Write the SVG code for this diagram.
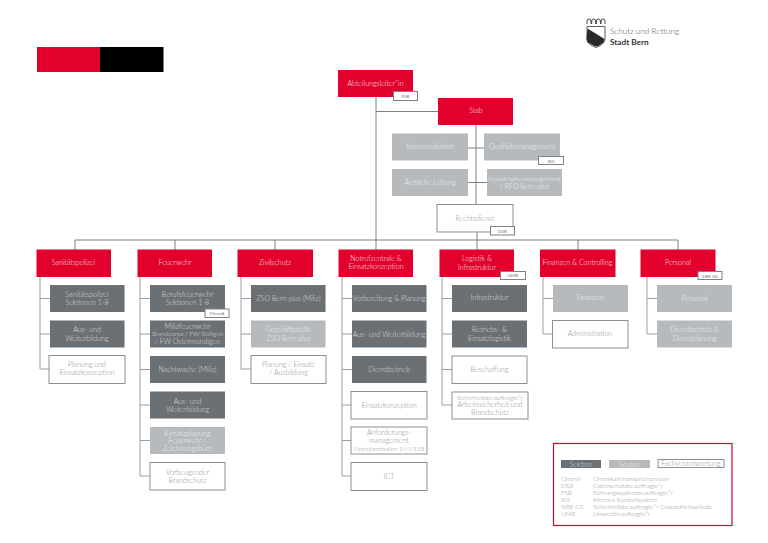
<svg xmlns="http://www.w3.org/2000/svg" width="768" height="543" viewBox="0 0 768 543">
<style>
text{font-family:"Lato","Roboto","Liberation Sans",sans-serif;font-weight:300;font-size:7.1px;text-anchor:middle}
.r{fill:#e2002d}.d{fill:#6b7075}.g{fill:#b6babd}
.w{fill:#fff;stroke:#8b9094;stroke-width:1}
.t{fill:#fff;stroke:#7d8286;stroke-width:1}
.tw{fill:#f6e3e6}.tg{fill:#f1f2f2}.td{fill:#dcdedf}.tb{fill:#8f9295}
.n{font-size:6.4px}
.tag{font-size:4.5px;fill:#777;font-weight:400}
.con{fill:none;stroke:#7d8286;stroke-width:1}
.con2{fill:none;stroke:#9a9ea2;stroke-width:1}
.lg{font-size:6.3px;text-anchor:start;fill:#8f9295}
</style>
<rect x="37" y="47" width="63" height="25" fill="#e2002d"/>
<rect x="100" y="47" width="63.500" height="25" fill="#000"/>
<g id="logo">
<path d="M587 24v-3a2 2 0 0 1 4 0v3M591.700 24v-3a2 2 0 0 1 4 0v3M596.400 24v-3a2 2 0 0 1 4 0v3M601 24v-3a2 2 0 0 1 4 0v3" stroke="#333" stroke-width="0.900" fill="none"/>
<path d="M587 26.500h18v12.500c0 4-4 6.500-9 8.500c-5-2-9-4.500-9-8.500z" fill="#fff" stroke="#333" stroke-width="0.800"/>
<path d="M587.500 28.500l17 10.500l-1 3.500l-5 3.500l-3 0.500l-8-4l-1-4z" fill="#2a2a2a"/>
<text x="610" y="33.500" style="font-size:8.200px;text-anchor:start;fill:#555">Schutz und Rettung</text>
<text x="610" y="44.500" style="font-size:8.200px;font-weight:700;text-anchor:start;fill:#333">Stadt Bern</text>
</g>
<g id="connectors">
<path class="con" d="M376 97V250M376 111.500H438M476 125V204M468 148H484M468 182.500H487M75 250V240H678V250M175 240V250M275 240V250M477 232V250M578 240V250"/>
<path class="con2" d="M40 277V369H50M40 298.500H50M40 334H50"/>
<path class="con2" d="M140 277V476H150M140 298.500H150M140 334H150M140 369.500H150M140 405H150M140 440.500H150"/>
<path class="con2" d="M241 277V369H251M241 298.500H251M241 334H251"/>
<path class="con2" d="M342 277V476H352M342 298.500H352M342 334H352M342 369.500H352M342 405H352M342 440.500H352"/>
<path class="con2" d="M442 277V405H452M442 298.500H452M442 334H452M442 369.500H452"/>
<path class="con2" d="M543 277V334H553M543 298.500H553"/>
<path class="con2" d="M647 277V334H657M647 298.500H657"/>
</g>
<g id="n-abt"><rect class="r" x="338" y="70" width="75" height="27"/><text class="tw" x="375.500" y="86">Abteilungsleiter*in</text></g>
<g id="t-fsb"><rect class="t" x="393.500" y="91.500" width="24" height="9"/><text class="tag" x="405.500" y="97.500">FSB</text></g>
<g id="n-stab"><rect class="r" x="438" y="98" width="75" height="27"/><text class="tw" x="476" y="112.500">Stab</text></g>
<g id="n-kom"><rect class="g" x="392" y="133.500" width="76" height="27"/><text class="tg" x="430" y="148.500">Kommunikation</text></g>
<g id="n-qual"><rect class="g" x="484" y="133.500" width="76" height="27"/><text class="tg" x="522" y="148.500">Qualitätsmanagement</text></g>
<g id="t-iks"><rect class="t" x="538.500" y="156.500" width="25" height="8"/><text class="tag" x="551" y="162.500">IKS</text></g>
<g id="n-arzt"><rect class="g" x="392" y="169" width="76" height="27"/><text class="tg" x="430" y="184.500">Ärztliche Leitung</text></g>
<g id="n-kat"><rect class="g" x="487" y="169" width="75" height="27"/><text class="tg n" x="524.500" y="180.500">Katastrophenmanagement</text><text class="tg" x="524.500" y="189">/ RFO Bern plus</text></g>
<g id="n-recht"><rect class="w" x="437" y="204.500" width="76" height="27.500"/><text class="tb" x="475" y="220.500">Rechtsdienst</text></g>
<g id="t-dsb"><rect class="t" x="490.500" y="226.500" width="24" height="8.500"/><text class="tag" x="502.500" y="232.500">DSB</text></g>

<g id="n-san"><rect class="r" x="36.500" y="249.500" width="74.500" height="27.500"/><text class="tw" x="73.500" y="264.500">Sanitätspolizei</text></g>
<g id="n-feu"><rect class="r" x="137.500" y="249.500" width="74.500" height="27.500"/><text class="tw" x="175" y="264.500">Feuerwehr</text></g>
<g id="n-ziv"><rect class="r" x="237.500" y="249.500" width="75.500" height="27.500"/><text class="tw" x="275" y="264.500">Zivilschutz</text></g>
<g id="n-not"><rect class="r" x="338.500" y="249.500" width="74.500" height="27.500"/><text class="tw" x="376" y="261">Notrufzentrale &amp;</text><text class="tw" x="376" y="269">Einsatzkonzeption</text></g>
<g id="n-log"><rect class="r" x="439.500" y="249.500" width="74.500" height="27.500"/><text class="tw" x="477" y="261">Logistik &amp;</text><text class="tw" x="477" y="269.500">Infrastruktur</text></g>
<g id="t-umb"><rect class="t" x="500.500" y="271.500" width="25" height="8"/><text class="tag" x="513" y="276.500">UMB</text></g>
<g id="n-fin"><rect class="r" x="540" y="249.500" width="75.500" height="27.500"/><text class="tw" x="577.500" y="264.500">Finanzen &amp; Controlling</text></g>
<g id="n-per"><rect class="r" x="640.500" y="249.500" width="75" height="27.500"/><text class="tw" x="678" y="264.500">Personal</text></g>
<g id="t-sibe"><rect class="t" x="698" y="271.500" width="24" height="8"/><text class="tag" x="710" y="277.500">SiBE GS</text></g>

<g id="n-s1"><rect class="d" x="50" y="285" width="74.500" height="27"/><text class="td" x="87" y="296.500">Sanitätspolizei</text><text class="td" x="87" y="304.500">Sektionen 1-8</text></g>
<g id="n-s2"><rect class="d" x="50" y="320.500" width="74.500" height="27"/><text class="td" x="87" y="332">Aus- und</text><text class="td" x="87" y="340.500">Weiterbildung</text></g>
<g id="n-s3"><rect class="w" x="49" y="355.500" width="76" height="28"/><text class="tb" x="87" y="367">Planung und</text><text class="tb" x="87" y="375">Einsatzkonzeption</text></g>

<g id="n-f1"><rect class="d" x="150" y="285" width="75" height="27"/><text class="td" x="187.500" y="296.500">Berufsfeuerwehr</text><text class="td" x="187.500" y="304.500">Sektionen 1-8</text></g>
<g id="t-chem"><rect class="t" x="205" y="309" width="24" height="8.500"/><text class="tag" x="217" y="315">ChemA</text></g>
<g id="n-f2"><rect class="d" x="150" y="320.500" width="75" height="27"/><text class="td" x="187.500" y="328.500">Milizfeuerwehr</text><text class="td n" x="187.500" y="336.300">Brandcorps / FW Bolligen</text><text class="td" x="187.500" y="344">/ FW Ostermundigen</text></g>
<g id="n-f3"><rect class="d" x="150" y="356" width="75" height="27"/><text class="td" x="187.500" y="371.500">Nachtwache (Miliz)</text></g>
<g id="n-f4"><rect class="d" x="150" y="391.500" width="75" height="27"/><text class="td" x="187.500" y="403.500">Aus- und</text><text class="td" x="187.500" y="411.500">Weiterbildung</text></g>
<g id="n-f5"><rect class="g" x="150" y="427" width="75" height="27"/><text class="tg" x="187.500" y="435.500">Einsatzplanung</text><text class="tg" x="187.500" y="443">Feuerwehr /</text><text class="tg" x="187.500" y="450.500">Zeichnungsbüro</text></g>
<g id="n-f6"><rect class="w" x="150" y="462.500" width="75" height="27.500"/><text class="tb" x="187.500" y="474.500">Vorbeugender</text><text class="tb" x="187.500" y="482.500">Brandschutz</text></g>

<g id="n-z1"><rect class="d" x="251" y="285" width="74.500" height="27"/><text class="td" x="288.500" y="300.500">ZSO Bern plus (Miliz)</text></g>
<g id="n-z2"><rect class="g" x="251" y="320.500" width="74.500" height="27"/><text class="tg" x="288.500" y="332">Geschäftsstelle</text><text class="tg" x="288.500" y="340.500">ZSO Bern plus</text></g>
<g id="n-z3"><rect class="w" x="251" y="355.500" width="75" height="28"/><text class="tb" x="288.500" y="367">Planung / Einsatz</text><text class="tb" x="288.500" y="375">/ Ausbildung</text></g>

<g id="n-n1"><rect class="d" x="352" y="285" width="74.500" height="27"/><text class="td" x="389" y="301">Vorbereitung &amp; Planung</text></g>
<g id="n-n2"><rect class="d" x="352" y="320.500" width="74.500" height="27"/><text class="td" x="389" y="337">Aus- und Weiterbildung</text></g>
<g id="n-n3"><rect class="d" x="352" y="356" width="74.500" height="27"/><text class="td" x="389" y="372">Dienstbetrieb</text></g>
<g id="n-n4"><rect class="w" x="351" y="391.500" width="76" height="27.500"/><text class="tb" x="389" y="407.500">Einsatzkonzeption</text></g>
<g id="n-n5"><rect class="w" x="351" y="427" width="76" height="27"/><text class="tb" x="389" y="434.500">Anforderungs-</text><text class="tb" x="389" y="442.700">management</text><text class="tb n" x="389" y="450.500">Notrufzentralen 144/118</text></g>
<g id="n-n6"><rect class="w" x="351" y="462.500" width="76" height="28"/><text class="tb" x="389" y="478.500">ICT</text></g>

<g id="n-l1"><rect class="d" x="452" y="285" width="75" height="27"/><text class="td" x="489.500" y="300">Infrastruktur</text></g>
<g id="n-l2"><rect class="d" x="452" y="320.500" width="75" height="27"/><text class="td" x="489.500" y="332">Betriebs- &amp;</text><text class="td" x="489.500" y="340.500">Einsatzlogistik</text></g>
<g id="n-l3"><rect class="w" x="452" y="356" width="75" height="27.500"/><text class="tb" x="489.500" y="372">Beschaffung</text></g>
<g id="n-l4"><rect class="w" x="452" y="392" width="76" height="27"/><text class="tb n" x="490" y="399.500">Sicherheitsbeauftragte*r</text><text class="tb" x="490" y="407">Arbeitssicherheit und</text><text class="tb" x="490" y="414.500">Brandschutz</text></g>

<g id="n-c1"><rect class="g" x="553" y="285" width="75" height="27"/><text class="tg" x="590.500" y="300">Finanzen</text></g>
<g id="n-c2"><rect class="w" x="552.500" y="320.500" width="75.500" height="27.500"/><text class="tb" x="590" y="336">Administration</text></g>

<g id="n-p1"><rect class="g" x="657" y="285" width="75" height="27"/><text class="tg" x="694.500" y="300.500">Personal</text></g>
<g id="n-p2"><rect class="g" x="657" y="320.500" width="75" height="27"/><text class="tg" x="694.500" y="332">Dienstbetrieb &amp;</text><text class="tg" x="694.500" y="340.500">Dienstplanung</text></g>

<g id="legend">
<rect x="553.500" y="443.500" width="178.500" height="82" fill="#fff" stroke="#e2002d" stroke-width="1.200"/>
<rect class="d" x="561" y="460" width="40" height="8"/><text class="td" x="581" y="466.500">Sektion</text>
<rect class="g" x="609" y="460" width="41" height="8"/><text class="tg" x="629.500" y="466.500">Gruppe</text>
<rect class="w" x="658" y="459.500" width="66" height="8"/><text class="tb" x="691" y="466">Fachverantwortung</text>
<text class="lg" x="561" y="481">ChemA</text><text class="lg" x="593" y="481">Chemikalienansprechperson</text>
<text class="lg" x="561" y="488">DSB</text><text class="lg" x="593" y="488">Datenschutzbeauftragte*r</text>
<text class="lg" x="561" y="495">FSB</text><text class="lg" x="593" y="495">Führungssystembeauftragte*r</text>
<text class="lg" x="561" y="502">IKS</text><text class="lg" x="593" y="502">Internes Kontrollsystem</text>
<text class="lg" x="561" y="509">SIBE GS</text><text class="lg" x="593" y="509">Sicherheitsbeauftragte*r Gesundheitsschutz</text>
<text class="lg" x="561" y="516">UMB</text><text class="lg" x="593" y="516">Umweltbeauftragte*r</text>
</g>
</svg>
